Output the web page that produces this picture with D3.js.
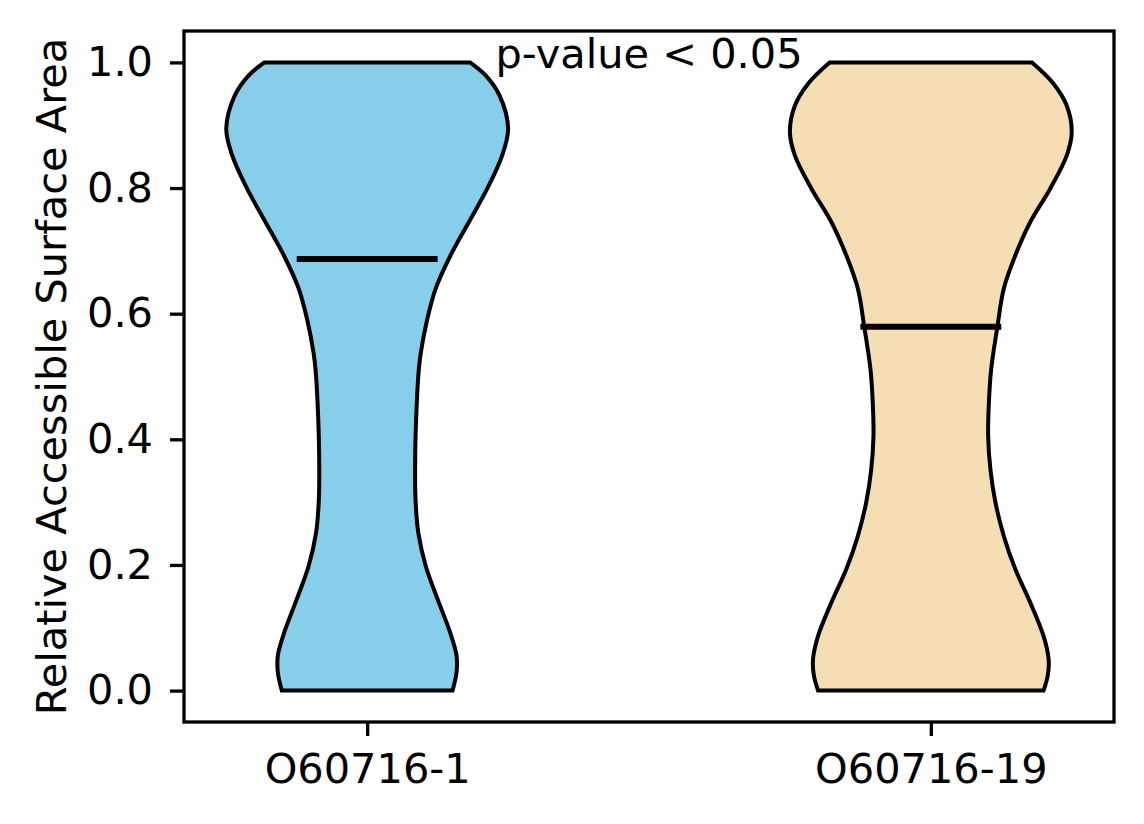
<!DOCTYPE html>
<html>
<head>
<meta charset="utf-8">
<script src="https://cdn.jsdelivr.net/npm/d3@7"></script>
<style>
  body { margin: 0; background: #fff; }
  svg { display: block; font-family: "DejaVu Sans", sans-serif; }
</style>
</head>
<body>
<svg id="chart" width="1144" height="824"></svg>
<script>
// categories and positions
const categories = ['O60716-1', 'O60716-19'];
const positions = [1, 2];
const colors = ['#87CEEB', '#F5DEB3'];

// violin outlines: RSA level and relative density (max = 1)
const levels1 = [0, 0.029, 0.056, 0.093, 0.146, 0.198, 0.251, 0.304, 0.378, 0.458, 0.51, 0.537, 0.59, 0.64, 0.693, 0.746, 0.799, 0.852, 0.895, 0.947, 0.979, 1.0];
const density1 = [0.606, 0.634, 0.634, 0.588, 0.499, 0.416, 0.363, 0.343, 0.341, 0.352, 0.366, 0.38, 0.425, 0.486, 0.592, 0.722, 0.852, 0.958, 1.0, 0.94, 0.842, 0.729];

const levels2 = [0, 0.024, 0.05, 0.087, 0.14, 0.193, 0.246, 0.299, 0.352, 0.405, 0.458, 0.511, 0.577, 0.64, 0.693, 0.746, 0.799, 0.852, 0.889, 0.931, 0.968, 1.0];
const density2 = [0.8, 0.83, 0.836, 0.8, 0.706, 0.6, 0.518, 0.459, 0.423, 0.407, 0.412, 0.428, 0.471, 0.518, 0.6, 0.706, 0.847, 0.965, 1.0, 0.965, 0.864, 0.718];

const medians = [0.687, 0.579];
const yTicks = [0, 0.2, 0.4, 0.6, 0.8, 1.0];
const annotation = 'p-value < 0.05';

const profiles = [
  levels1.map((v, i) => ({ v, w: density1[i] })),
  levels2.map((v, i) => ({ v, w: density2[i] }))
];

const svg = d3.select('#chart');
const margin = { top: 31, right: 30, bottom: 102, left: 184 };
const width = 1144, height = 824;
const violinWidth = 0.5;
const fontSize = 41.5;

const x = d3.scaleLinear()
  .domain([0.675, 2.325])
  .range([margin.left, width - margin.right]);

const y = d3.scaleLinear()
  .domain([-0.05, 1.05])
  .range([height - margin.bottom, margin.top]);

const half = d3.scaleLinear().domain([0, 1]).range([0, violinWidth / 2]);

// violins
profiles.forEach((pts, i) => {
  const pos = positions[i];
  const area = d3.area()
    .y(d => y(d.v))
    .x0(d => x(pos - half(d.w)))
    .x1(d => x(pos + half(d.w)))
    .curve(d3.curveCatmullRom.alpha(0.5));

  svg.append('path')
    .datum(pts)
    .attr('d', area)
    .attr('fill', colors[i])
    .attr('stroke', '#000')
    .attr('stroke-width', 4)
    .attr('stroke-linejoin', 'miter');
});

// medians
svg.append('g')
  .selectAll('line')
  .data(medians)
  .join('line')
    .attr('x1', (d, i) => x(positions[i] - violinWidth / 4))
    .attr('x2', (d, i) => x(positions[i] + violinWidth / 4))
    .attr('y1', d => y(d))
    .attr('y2', d => y(d))
    .attr('stroke', '#000')
    .attr('stroke-width', 6);

// axes
const xAxis = g => g
  .attr('transform', `translate(0,${height - margin.bottom})`)
  .call(d3.axisBottom(x).tickValues(positions).tickFormat((d, i) => categories[i])
    .tickSizeOuter(0).tickSize(14).tickPadding(18));

const yAxis = g => g
  .attr('transform', `translate(${margin.left},0)`)
  .call(d3.axisLeft(y).tickValues(yTicks).tickFormat(d3.format('.1f'))
    .tickSizeOuter(0).tickSize(14).tickPadding(17));

[svg.append('g').call(xAxis), svg.append('g').call(yAxis)].forEach(g => {
  g.select('.domain').remove();
  g.selectAll('line').attr('stroke', '#000').attr('stroke-width', 3.3);
  g.selectAll('text').attr('font-size', fontSize).attr('fill', '#000')
    .attr('font-family', '"DejaVu Sans", sans-serif');
});

// frame
svg.append('rect')
  .attr('x', margin.left)
  .attr('y', margin.top)
  .attr('width', width - margin.left - margin.right)
  .attr('height', height - margin.top - margin.bottom)
  .attr('fill', 'none')
  .attr('stroke', '#000')
  .attr('stroke-width', 3.3);

// y label
svg.append('text')
  .attr('transform', `translate(66,${(margin.top + height - margin.bottom) / 2}) rotate(-90)`)
  .attr('text-anchor', 'middle')
  .attr('font-size', fontSize)
  .text('Relative Accessible Surface Area');

// annotation
svg.append('text')
  .attr('x', x(1.5))
  .attr('y', y(1.0) + 6)
  .attr('text-anchor', 'middle')
  .attr('font-size', fontSize)
  .text(annotation);
</script>
</body>
</html>
